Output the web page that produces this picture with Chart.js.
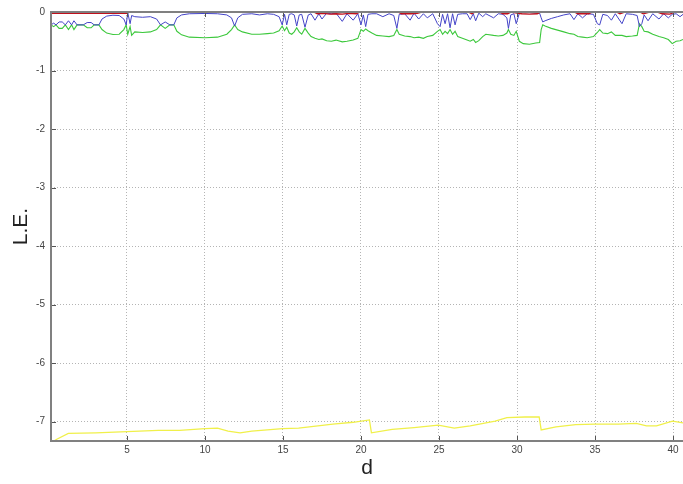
<!DOCTYPE html>
<html>
<head>
<meta charset="utf-8">
<script src="https://cdn.jsdelivr.net/npm/chart.js@4"></script>
<style>
  html, body { margin: 0; padding: 0; background: #fff; }
  canvas { display: block; }
</style>
</head>
<body>
<canvas id="leChart" width="683" height="484"></canvas>
<script>
const dTicks = [5, 10, 15, 20, 25, 30, 35, 40];
const leTicks = [0, -1, -2, -3, -4, -5, -6, -7];

// shared d grid for the 2nd and 3rd exponents
const dMid = [
  0.13, 0.3, 0.45, 0.65, 0.85, 1.05, 1.25, 1.45, 1.6, 1.8,
  2.2, 2.45, 2.7, 2.9, 3.2, 3.4, 3.7, 4.1, 4.5, 4.8,
  4.95, 5.05, 5.2, 5.3, 5.5, 6.0, 6.5, 6.9, 7.15, 7.45,
  7.75, 8.0, 8.2, 8.5, 9.0, 10.0, 10.8, 11.4, 11.7, 11.9,
  12.1, 12.4, 13.0, 13.5, 14.0, 14.4, 14.75, 14.95, 15.1, 15.24,
  15.4, 15.56, 15.72, 15.88, 16.04, 16.2, 16.41, 16.62, 16.8, 17.05,
  17.3, 17.5, 17.8, 18.1, 18.4, 18.8, 19.1, 19.5, 19.8, 20.0,
  20.15, 20.3, 20.45, 20.7, 21.0, 21.4, 21.8, 22.1, 22.3, 22.45,
  22.8, 23.15, 23.4, 23.7, 24.0, 24.25, 24.6, 24.9, 25.07, 25.23,
  25.39, 25.55, 25.71, 25.87, 26.03, 26.2, 26.5, 26.8, 27.0, 27.2,
  27.35, 27.55, 27.8, 28.0, 28.5, 28.8, 29.1, 29.35, 29.45, 29.6,
  29.8, 29.95, 30.15, 30.4, 30.8, 31.2, 31.45, 31.55, 31.65, 31.8,
  32.2, 32.6, 33.0, 33.4, 33.65, 33.9, 34.2, 34.5, 34.9, 35.15,
  35.3, 35.5, 35.8, 36.05, 36.3, 36.73, 37.0, 37.4, 37.7, 37.85,
  38.0, 38.15, 38.4, 38.7, 39.1, 39.4, 39.7, 39.95, 40.2, 40.45,
  40.64
];
const le2 = [
  -0.22, -0.19, -0.22, -0.17, -0.17, -0.22, -0.15, -0.22, -0.15, -0.22,
  -0.22, -0.18, -0.18, -0.22, -0.22, -0.12, -0.07, -0.055, -0.06, -0.12,
  -0.22, -0.01, -0.20, -0.06, -0.08, -0.09, -0.08, -0.12, -0.22, -0.17,
  -0.22, -0.22, -0.10, -0.05, -0.03, -0.025, -0.03, -0.05, -0.10, -0.24,
  -0.10, -0.04, -0.03, -0.05, -0.03, -0.04, -0.08, -0.22, -0.04, -0.22,
  -0.04, -0.03, -0.05, -0.24, -0.05, -0.04, -0.26, -0.05, -0.03, -0.14,
  -0.03, -0.12, -0.02, -0.03, -0.02, -0.16, -0.03, -0.14, -0.03, -0.22,
  -0.05, -0.25, -0.04, -0.03, -0.03, -0.08, -0.03, -0.06, -0.28, -0.04,
  -0.03, -0.14, -0.02, -0.12, -0.03, -0.10, -0.03, -0.20, -0.25, -0.04,
  -0.20, -0.03, -0.27, -0.03, -0.22, -0.04, -0.03, -0.03, -0.13, -0.03,
  -0.15, -0.02, -0.08, -0.03, -0.10, -0.03, -0.04, -0.10, -0.28, -0.05,
  -0.03, -0.20, -0.02, -0.01, -0.01, -0.02, -0.02, -0.10, -0.17, -0.15,
  -0.11, -0.08, -0.05, -0.03, -0.13, -0.03, -0.10, -0.03, -0.04, -0.20,
  -0.22, -0.04, -0.06, -0.14, -0.03, -0.20, -0.03, -0.04, -0.06, -0.25,
  -0.20, -0.05, -0.15, -0.03, -0.12, -0.03, -0.10, -0.04, -0.03, -0.08,
  -0.04
];
const le3 = [
  -0.22, -0.25, -0.22, -0.28, -0.28, -0.22, -0.30, -0.22, -0.30, -0.22,
  -0.22, -0.27, -0.27, -0.22, -0.22, -0.30, -0.36, -0.385, -0.38, -0.30,
  -0.22, -0.38, -0.25, -0.40, -0.34, -0.35, -0.34, -0.30, -0.22, -0.28,
  -0.22, -0.22, -0.33, -0.39, -0.43, -0.44, -0.43, -0.38, -0.30, -0.22,
  -0.30, -0.34, -0.38, -0.38, -0.37, -0.36, -0.32, -0.24, -0.32, -0.26,
  -0.36, -0.38, -0.34, -0.27, -0.34, -0.38, -0.28, -0.36, -0.42, -0.45,
  -0.47, -0.46, -0.49, -0.50, -0.48, -0.51, -0.50, -0.48, -0.45, -0.30,
  -0.33, -0.29, -0.32, -0.36, -0.40, -0.41, -0.42, -0.40, -0.30, -0.38,
  -0.41, -0.42, -0.44, -0.43, -0.45, -0.42, -0.40, -0.33, -0.30, -0.38,
  -0.33, -0.37, -0.30, -0.38, -0.33, -0.42, -0.45, -0.48, -0.50, -0.47,
  -0.52, -0.49, -0.42, -0.38, -0.40, -0.41, -0.40, -0.36, -0.30, -0.38,
  -0.40, -0.33, -0.50, -0.54, -0.55, -0.53, -0.52, -0.30, -0.22, -0.24,
  -0.28, -0.31, -0.34, -0.37, -0.38, -0.42, -0.43, -0.44, -0.42, -0.35,
  -0.30, -0.36, -0.37, -0.34, -0.40, -0.40, -0.42, -0.41, -0.40, -0.20,
  -0.25, -0.33, -0.34, -0.38, -0.42, -0.44, -0.47, -0.54, -0.50, -0.49,
  -0.47
];

// largest exponent, sits just under zero
const dTop = [
  0.13, 5.0, 5.1, 17.0, 17.2, 17.6, 18.0, 18.4, 18.8, 19.2,
  19.7, 19.9, 22.4, 22.6, 23.2, 23.6, 23.9, 26.9, 27.1, 27.3,
  28.9, 29.1, 29.4, 29.6, 30.3, 30.8, 31.3, 31.5, 33.7, 33.9,
  34.6, 34.8, 36.4, 36.6, 36.9, 37.9, 38.1, 38.5, 39.0, 39.3,
  39.8, 40.1, 40.64
];
const le1 = [
  -0.022, -0.022, -0.003, -0.003, -0.03, -0.025, -0.035, -0.03, -0.035, -0.025,
  -0.03, -0.003, -0.003, -0.03, -0.03, -0.025, -0.003, -0.003, -0.03, -0.003,
  -0.003, -0.03, -0.03, -0.003, -0.03, -0.035, -0.03, -0.003, -0.003, -0.03,
  -0.03, -0.003, -0.003, -0.03, -0.003, -0.003, -0.03, -0.003, -0.003, -0.03,
  -0.035, -0.003, -0.003
];

// most negative exponent
const dLow = [
  0.13, 0.5, 1.24, 3.0, 5.0, 7.0, 8.37, 10.0, 10.8, 11.48,
  12.25, 13.0, 14.97, 16.0, 18.2, 19.5, 20.54, 20.67, 22.0, 23.4,
  24.95, 25.98, 27.0, 28.6, 29.35, 30.5, 31.42, 31.55, 32.5, 33.76,
  35.0, 36.5, 37.64, 38.3, 38.94, 39.97, 40.64
];
const le4 = [
  -7.36, -7.30, -7.20, -7.19, -7.17, -7.15, -7.15, -7.12, -7.11, -7.16,
  -7.19, -7.16, -7.12, -7.11, -7.04, -7.01, -6.97, -7.19, -7.13, -7.10,
  -7.06, -7.11, -7.07, -6.99, -6.93, -6.92, -6.92, -7.14, -7.09, -7.05,
  -7.04, -7.04, -7.03, -7.07, -7.07, -6.99, -7.02
];

const toPoints = (xs, ys) => xs.map((x, i) => ({ x: x, y: ys[i] }));

function lineSet(label, xs, ys, color, width, order) {
  return {
    label: label,
    data: toPoints(xs, ys),
    borderColor: color,
    borderWidth: width,
    pointRadius: 0,
    tension: 0,
    fill: false,
    order: order
  };
}

// box edges and inward ticks, drawn over the curves
const axesBox = {
  id: 'axesBox',
  afterDatasetsDraw(chart) {
    const { ctx, chartArea: a, scales: { x, y } } = chart;
    ctx.save();
    ctx.strokeStyle = '#555';
    ctx.lineWidth = 1;
    ctx.beginPath();
    dTicks.forEach(v => {
      const px = Math.round(x.getPixelForValue(v)) + 0.5;
      ctx.moveTo(px, a.bottom); ctx.lineTo(px, a.bottom - 5);
      ctx.moveTo(px, a.top); ctx.lineTo(px, a.top + 5);
    });
    leTicks.forEach(v => {
      const py = Math.round(y.getPixelForValue(v)) + 0.5;
      ctx.moveTo(a.left, py); ctx.lineTo(a.left + 5, py);
    });
    ctx.stroke();
    ctx.strokeStyle = '#808080';
    ctx.lineWidth = 2;
    ctx.beginPath();
    ctx.moveTo(a.right, a.top);
    ctx.lineTo(a.left, a.top);
    ctx.lineTo(a.left, a.bottom);
    ctx.lineTo(a.right, a.bottom);
    ctx.stroke();
    ctx.restore();
  }
};

const tickFont = { family: '"Liberation Sans", Arial, sans-serif', size: 10 };
const titleFont = { family: '"Liberation Sans", Arial, sans-serif', size: 21 };

new Chart(document.getElementById('leChart'), {
  type: 'line',
  data: {
    datasets: [
      lineSet('LE1', dTop, le1, '#c0101c', 1.3, 0),
      lineSet('LE2', dMid, le2, '#4444c8', 1, 1),
      lineSet('LE3', dMid, le3, '#3cc83c', 1.1, 2),
      lineSet('LE4', dLow, le4, '#f0f04a', 1.3, 3)
    ]
  },
  options: {
    responsive: false,
    animation: false,
    layout: { padding: { top: 10, left: 0, right: 0, bottom: 0 } },
    plugins: {
      legend: { display: false },
      tooltip: { enabled: false }
    },
    scales: {
      x: {
        type: 'linear',
        min: 0.13,
        max: 40.64,
        afterBuildTicks: s => { s.ticks = dTicks.map(v => ({ value: v })); },
        afterFit: s => { s.height = 43; },
        ticks: { font: tickFont, color: '#444', padding: 3, maxRotation: 0 },
        grid: { color: '#b4b4b4', lineWidth: 1, drawTicks: false },
        border: { display: false, dash: [1, 2] },
        title: { display: true, text: 'd', font: titleFont, color: '#222', padding: { top: 0, bottom: 3 } }
      },
      y: {
        type: 'linear',
        min: -7.33,
        max: 0,
        afterBuildTicks: s => { s.ticks = leTicks.map(v => ({ value: v })); },
        afterFit: s => { s.width = 51; },
        ticks: { font: tickFont, color: '#444', padding: 6 },
        grid: { color: '#b4b4b4', lineWidth: 1, drawTicks: false },
        border: { display: false, dash: [1, 2] },
        title: { display: true, text: 'L.E.', font: titleFont, color: '#222', padding: { top: 9, bottom: 0 } }
      }
    }
  },
  plugins: [axesBox]
});
</script>
</body>
</html>
